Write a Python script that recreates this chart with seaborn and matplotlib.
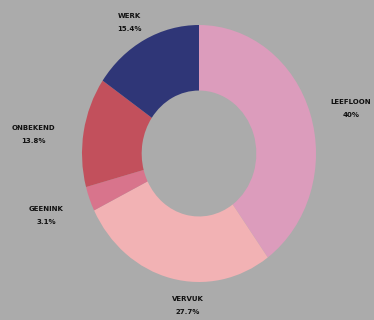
import matplotlib
matplotlib.use("Agg")
import matplotlib.pyplot as plt
import seaborn as sns

categories = ['LEEFLOON', 'VERVUK', 'GEENINK', 'ONBEKEND', 'WERK']
shares = [40, 27.7, 3.1, 13.8, 15.4]
share_labels = ['40%', '27.7%', '3.1%', '13.8%', '15.4%']
colors = ['#dc9cbc', '#f2b2b4', '#d8748c', '#c2505c', '#2f3677']

sns.set_style('white')
plt.rcParams['font.family'] = ['DejaVu Sans']

bg = '#ababab'
W, H = 374, 320
fig = plt.figure(figsize=(W / 100, H / 100), dpi=100, facecolor=bg)

# donut bounding box in pixels (slightly taller than wide, as in the reference)
x0, x1, y0, y1 = 82, 316, 25, 282
ax = fig.add_axes([x0 / W, 1 - y1 / H, (x1 - x0) / W, (y1 - y0) / H])
ax.set_facecolor(bg)
ax.pie(shares, colors=colors, startangle=90, counterclock=False,
       wedgeprops=dict(width=0.51, linewidth=0))
ax.set_aspect('auto')
ax.set_xlim(-1, 1)
ax.set_ylim(-1, 1)
ax.axis('off')

# label positions (pixel centres of the name line)
label_pos = {
    'LEEFLOON': (351, 102),
    'VERVUK': (188, 299),
    'GEENINK': (46, 209),
    'ONBEKEND': (33, 128),
    'WERK': (129, 16),
}
for name, pct in zip(categories, share_labels):
    px, py = label_pos[name]
    fig.text(px / W, 1 - py / H, name, ha='center', va='center',
             fontsize=5, fontweight='bold', color='#111111')
    fig.text(px / W, 1 - (py + 13) / H, pct, ha='center', va='center',
             fontsize=5, fontweight='bold', color='#111111')

fig.savefig('out.png', dpi=100, facecolor=bg)
